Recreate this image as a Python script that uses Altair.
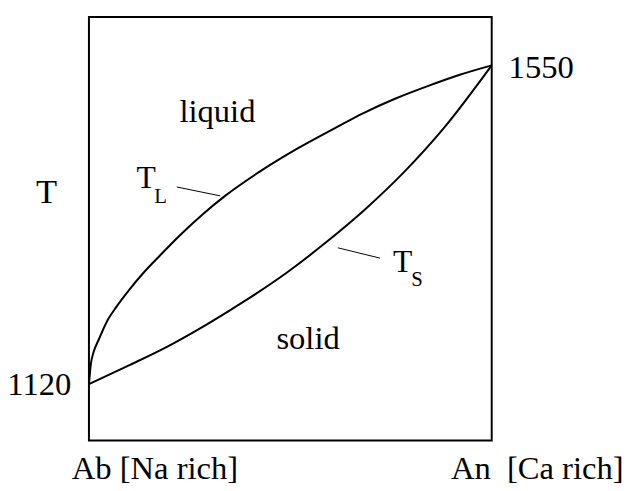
import altair as alt
import pandas as pd

# Liquidus (T_L) and solidus (T_S) curves: composition fraction Ab(0) -> An(1), temperature
comp_liq = [0, 0.005, 0.012, 0.025, 0.044, 0.069, 0.098, 0.135, 0.177, 0.226, 0.282, 0.338,
            0.422, 0.515, 0.613, 0.679, 0.760, 0.841, 0.919, 1.0]
temp_liq = [1120, 1148, 1164, 1181, 1204, 1225, 1246, 1270, 1294, 1321, 1349, 1374,
            1406, 1437, 1466, 1485, 1505, 1522, 1537, 1550]
comp_sol = [0, 0.098, 0.196, 0.294, 0.392, 0.490, 0.588, 0.686, 0.784, 0.882, 1.0]
temp_sol = [1120, 1145, 1171, 1201, 1234, 1270, 1311, 1356, 1407, 1466, 1550]

# Text labels
lab_center_text = ["T", "liquid", "solid", "Ab [Na rich]", "An\u00a0 [Ca rich]"]
lab_center_x = [-0.105, 0.319, 0.544, 0.164, 1.113]
lab_center_y = [1364, 1473, 1168, 992, 992]
lab_center_size = [35, 33, 33, 33, 33]

lab_left_text = ["T", "L", "T", "S", "1550"]
lab_left_x = [0.118, 0.162, 0.755, 0.800, 1.042]
lab_left_y = [1384, 1364, 1272, 1252, 1533]
lab_left_size = [32, 21, 32, 21, 33]

lab_right_text = ["1120"]
lab_right_x = [-0.044]
lab_right_y = [1105]
lab_right_size = [33]

# Leader lines
lead_x = [0.218, 0.618]
lead_y = [1386, 1304]
lead_x2 = [0.326, 0.723]
lead_y2 = [1374, 1290]

XDOM = [0, 1]
YDOM = [1044.1, 1615.2]
FONT = "Liberation Serif"

curves = pd.concat([
    pd.DataFrame({"c": comp_liq, "t": temp_liq, "curve": "TL"}),
    pd.DataFrame({"c": comp_sol, "t": temp_sol, "curve": "TS"}),
])

xs = alt.Scale(domain=XDOM, nice=False, zero=False)
ys = alt.Scale(domain=YDOM, nice=False, zero=False)

lines = alt.Chart(curves).mark_line(color="black", strokeWidth=2, interpolate="monotone").encode(
    x=alt.X("c:Q", scale=xs, axis=None),
    y=alt.Y("t:Q", scale=ys, axis=None),
    detail="curve:N",
)

def labels(text, x, y, size, align):
    df = pd.DataFrame({"text": text, "x": x, "y": y, "size": size})
    return alt.Chart(df).mark_text(font=FONT, color="black", align=align, baseline="alphabetic").encode(
        x=alt.X("x:Q", scale=xs, axis=None),
        y=alt.Y("y:Q", scale=ys, axis=None),
        text="text:N",
        size=alt.Size("size:Q", scale=None, legend=None),
    )

leaders = alt.Chart(pd.DataFrame({"x": lead_x, "y": lead_y, "x2": lead_x2, "y2": lead_y2})).mark_rule(
    color="black", strokeWidth=1
).encode(
    x=alt.X("x:Q", scale=xs, axis=None),
    y=alt.Y("y:Q", scale=ys, axis=None),
    x2="x2:Q",
    y2="y2:Q",
)

chart = alt.layer(
    lines,
    leaders,
    labels(lab_center_text, lab_center_x, lab_center_y, lab_center_size, "center"),
    labels(lab_left_text, lab_left_x, lab_left_y, lab_left_size, "left"),
    labels(lab_right_text, lab_right_x, lab_right_y, lab_right_size, "right"),
).properties(
    width=408,
    height=429,
    autosize=alt.AutoSizeParams(type="none"),
    padding={"left": 82, "top": 6, "right": 133, "bottom": 47},
).configure(
    background="white",
    font=FONT,
    view=alt.ViewConfig(stroke="black", strokeWidth=2),
)

chart.save("out.html", embed_options={"renderer": "svg", "actions": False})
